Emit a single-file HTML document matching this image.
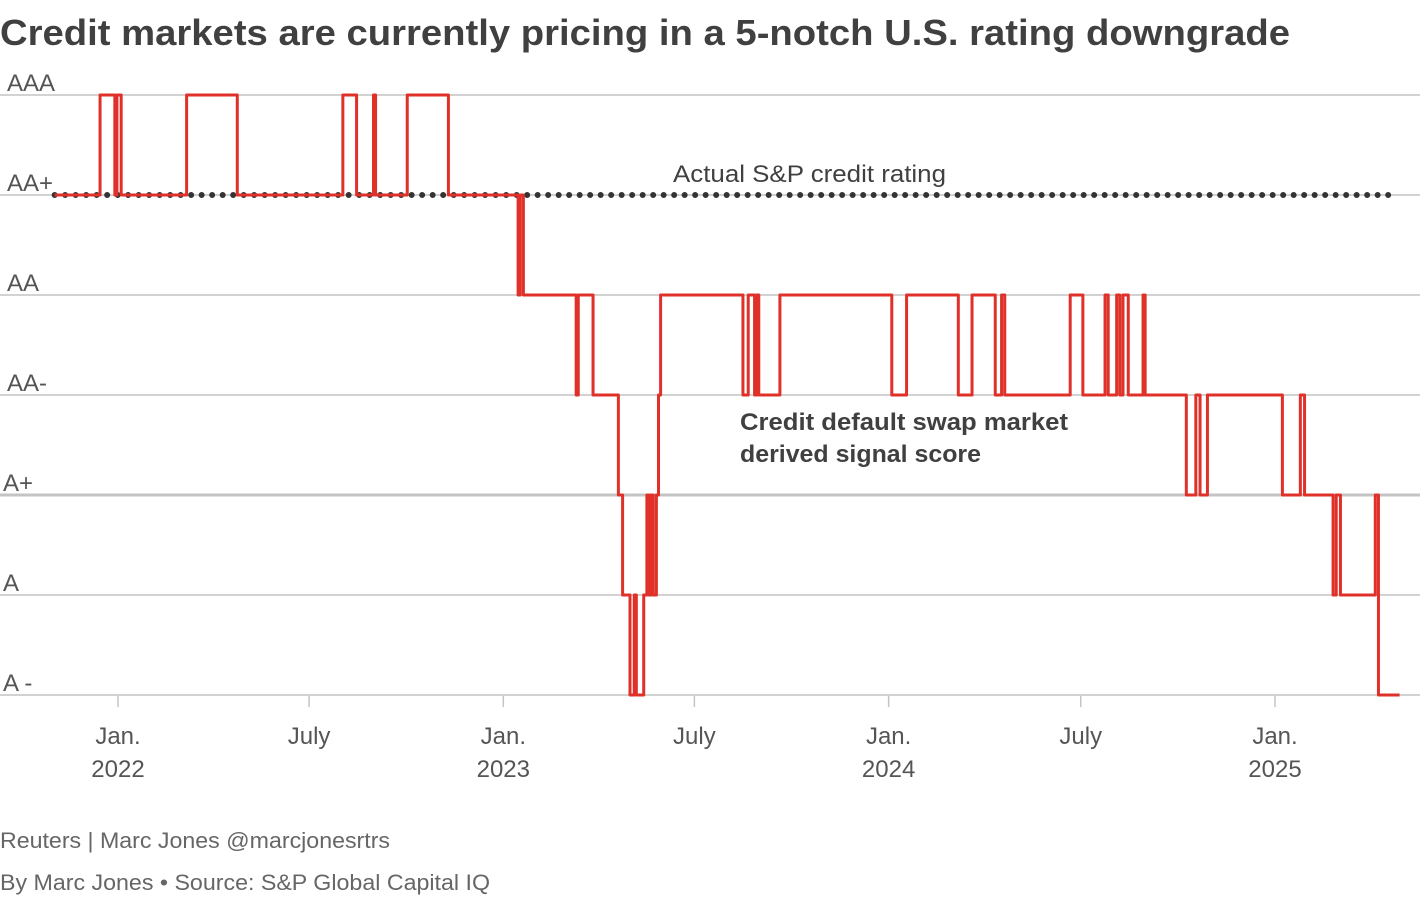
<!DOCTYPE html>
<html><head><meta charset="utf-8"><style>
body{margin:0;background:#fff;width:1420px;height:896px;overflow:hidden;font-family:"Liberation Sans",sans-serif}
svg text{font-family:"Liberation Sans",sans-serif}
</style></head><body>
<svg id="chart" width="1420" height="896" xmlns="http://www.w3.org/2000/svg">
<text x="0" y="45" font-size="36" font-weight="bold" fill="#404040" textLength="1290" lengthAdjust="spacingAndGlyphs">Credit markets are currently pricing in a 5-notch U.S. rating downgrade</text>
<g id="grid"></g><g id="axis"></g><g id="rating"></g><g id="series"></g>
<text x="673" y="182" font-size="24" fill="#404040" textLength="273" lengthAdjust="spacingAndGlyphs">Actual S&amp;P credit rating</text>
<text x="740" y="430" font-size="24" font-weight="bold" fill="#404040" textLength="328" lengthAdjust="spacingAndGlyphs">Credit default swap market</text>
<text x="740" y="462" font-size="24" font-weight="bold" fill="#404040" textLength="241" lengthAdjust="spacingAndGlyphs">derived signal score</text>
<text x="0" y="848" font-size="22" fill="#666" textLength="390" lengthAdjust="spacingAndGlyphs">Reuters | Marc Jones @marcjonesrtrs</text>
<text x="0" y="890" font-size="22" fill="#666" textLength="490" lengthAdjust="spacingAndGlyphs">By Marc Jones • Source: S&amp;P Global Capital IQ</text>
</svg>
<script>
// y levels: 0=AAA ... 6=A-
const levelLabels=["AAA","AA+","AA","AA-","A+","A","A -"];
// days since 2022-01-01
const xTickDays=[0,181,365,546,730,912,1096];
const xTickTop=["Jan.","July","Jan.","July","Jan.","July","Jan."];
const xTickBottom=["2022","","2023","","2024","","2025"];
const stepDays=[-60,-17,-3,-1,3,65,113,213,226,242,244,274,313,379,381,384,434,436,450,474,478,485,489,491,498,501,503,505,507,510,512,514,592,597,603,605,607,627,733,747,796,809,831,837,840,902,914,935,938,946,949,952,957,971,973,1012,1021,1025,1032,1103,1120,1124,1151,1154,1158,1191,1194,1214];
const stepLevels=[1,0,1,0,1,0,1,0,1,0,1,0,1,2,1,2,3,2,3,4,5,6,5,6,5,4,5,4,5,4,3,2,3,2,3,2,3,2,3,2,3,2,3,2,3,2,3,2,3,2,3,2,3,2,3,4,3,4,3,4,3,4,5,4,5,4,6,6];
const ratingLevel=1, ratingStart=-60, ratingEnd=1207;

const NS="http://www.w3.org/2000/svg";
const x=d=>118+d*(1275-118)/1096;
const y=l=>95+l*100;
function mk(tag,attrs,parent){const e=document.createElementNS(NS,tag);for(const k in attrs)e.setAttribute(k,attrs[k]);document.getElementById(parent).appendChild(e);return e;}
levelLabels.forEach((lab,i)=>{
  const ln=mk('line',{x1:0,x2:1420,y1:y(i),y2:y(i),stroke:'#c4c4c4','stroke-width':i==4?3:1.5},'grid');
  
  
  const t=mk('text',{x:i>=4?3:7,y:y(i)-4,'font-size':24,fill:'#555'},'grid');
  t.textContent=lab;
  
  
});
xTickDays.forEach((d,i)=>{
  const tk=mk('line',{x1:x(d),x2:x(d),y1:696,y2:707,stroke:'#c4c4c4','stroke-width':1.5},'axis');
  
  
  const t=mk('text',{x:x(d),y:744,'font-size':24,fill:'#555','text-anchor':'middle'},'axis');
  t.textContent=xTickTop[i];
  
  
  if(xTickBottom[i]){const t2=mk('text',{x:x(d),y:777,'font-size':24,fill:'#555','text-anchor':'middle'},'axis');
  t2.textContent=xTickBottom[i];
  
  }
});
let p='M'+x(stepDays[0])+','+y(stepLevels[0]);
for(let i=1;i<stepDays.length;i++){p+=' H'+x(stepDays[i])+' V'+y(stepLevels[i]);}
const s=mk('path',{d:p,fill:'none',stroke:'#e0302a','stroke-width':3,'stroke-linejoin':'round'},'series');


const rl=mk('line',{x1:x(ratingStart),x2:x(ratingEnd),y1:y(ratingLevel),y2:y(ratingLevel),stroke:'#333','stroke-width':6,'stroke-linecap':'round','stroke-dasharray':'0 10.5'},'rating');


</script>
</body></html>
